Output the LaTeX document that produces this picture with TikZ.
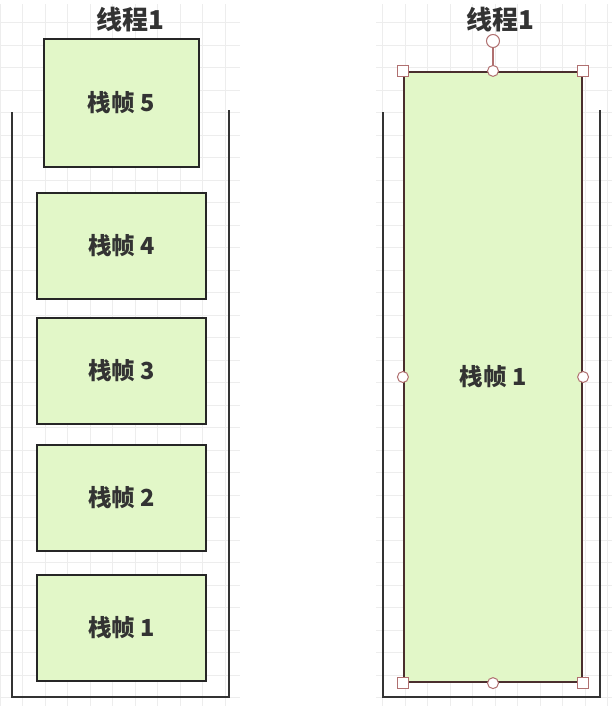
\documentclass[tikz,border=0pt]{standalone}
\usepackage{fontspec}
\usepackage{xcolor}
\usepackage{tikz}
\usetikzlibrary{arrows,positioning}
\newfontfamily\cjk{Noto Sans CJK SC}
\definecolor{framegreen}{HTML}{E2F7C8}
\definecolor{selbrown}{HTML}{4A2E2E}
\definecolor{handle}{HTML}{B07070}

\begin{document}
\begin{tikzpicture}[x=1pt,y=-1pt,semithick,
                    node distance=21pt]
\tikzstyle{every node}=[font=\cjk\bfseries]
\tikzstyle{frame}=[draw=black!85,line width=2pt,fill=framegreen,
                   minimum width=169pt,minimum height=106pt,text=black!80,
                   font=\cjk\bfseries\fontsize{23.5}{26}\selectfont]
\tikzstyle{title}=[font=\cjk\bfseries\fontsize{26}{30}\selectfont,text=black!80]
\tikzstyle{stack}=[draw=black!80,line width=2pt]
\tikzstyle{sq}=[draw=handle,fill=white,line width=1pt,minimum size=11pt,
                inner sep=0pt,rectangle]
\tikzstyle{rd}=[draw=handle,fill=white,line width=1pt,minimum size=11pt,
                inner sep=0pt,circle]
\useasboundingbox (0,0) rectangle (612,713);

% faint background grid
\draw[black!7,line width=0.6pt,step=22.5pt] (0,4) grid (240,706);
\draw[black!7,line width=0.6pt,step=22.5pt] (376,4) grid (612,706);
\fill[white] (240,0) rectangle (376,713);

% left: thread with five frames
\node[title] (T1) at (130,20) {线程1};
\draw[stack] (12,112) -- (12,697) -- (229,697) -- (229,110);
\node[frame,minimum width=155pt,minimum height=128pt] (F5) at (121,103) {栈帧 5};
\node[frame] (F1) at (121.5,627.5) {栈帧 1};
\node[frame,above=22pt of F1] (F2) {栈帧 2};
\node[frame,above=19pt of F2] (F3) {栈帧 3};
\node[frame,above=17pt of F3] (F4) {栈帧 4};

% right: thread with one frame (selected)
\node[title] (T2) at (500,20) {线程1};
\draw[stack] (383,112) -- (383,697) -- (600,697) -- (600,110);
\node[frame,draw=selbrown,line width=2.2pt,minimum width=178pt,minimum height=610pt]
     (B1) at (493,377) {栈帧 1};
\node[rd,minimum size=13pt] (ROT) at (493,41) {};
\draw[handle,line width=1.2pt] (ROT) -- (B1.north);
\foreach \a in {north west,north east,south west,south east}
  \node[sq] at (B1.\a) {};
\foreach \a in {north,south,west,east}
  \node[rd] at (B1.\a) {};
\end{tikzpicture}
\end{document}
